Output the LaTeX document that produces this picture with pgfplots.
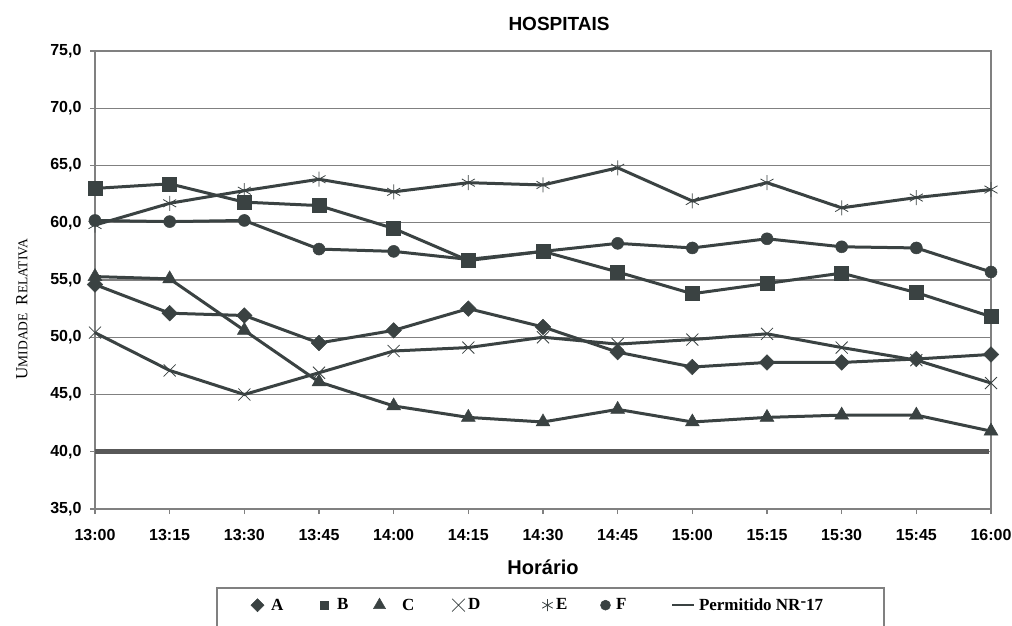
\documentclass[border=0pt]{standalone}
\usepackage{pgfplots}
\pgfplotsset{compat=1.18}
\usepackage{fontspec}
\setmainfont{Liberation Sans}
\newfontfamily\serif{Liberation Serif}
\definecolor{ser}{RGB}{58,66,66}
\definecolor{thr}{RGB}{88,88,88}
\definecolor{frm}{RGB}{128,128,128}
\pgfplotsset{
  markleg/.style={legend image code/.code={\path (-6pt,0pt) (6pt,0pt); \draw[##1, only marks, mark size=#1] plot coordinates {(0pt,0pt)};}},
  lineleg/.style={legend image code/.code={\draw[ser, line width=2pt] (0pt,0pt) -- (22pt,0pt);}},
  ser/.style={color=ser, line width=3pt, solid},
}
\begin{document}
\begin{tikzpicture}[x=1pt,y=1pt]
\path[use as bounding box] (0,0) rectangle (1012,625);
\begin{axis}[
  at={(95pt,116pt)}, anchor=south west, scale only axis,
  width=896pt, height=458pt,
  xmin=0, xmax=12, ymin=35, ymax=75,
  xtick={0,...,12},
  xticklabels={13:00,13:15,13:30,13:45,14:00,14:15,14:30,14:45,15:00,15:15,15:30,15:45,16:00},
  ytick={35,40,45,50,55,60,65,70,75},
  yticklabels={{35,0},{40,0},{45,0},{50,0},{55,0},{60,0},{65,0},{70,0},{75,0}},
  tick label style={font=\bfseries\fontsize{16}{16}\selectfont},
  xticklabel style={yshift=-12pt},
  yticklabel style={xshift=-5pt},
  tick align=outside, xtick pos=bottom, ytick pos=left,
  major tick length=5pt,
  every tick/.style={frm, line width=1.2pt},
  axis line style={frm, line width=1.5pt},
  ymajorgrids, grid style={frm, line width=1.2pt},
  clip=false,
  legend columns=-1,
  legend cell align=left,
  legend style={draw=none, fill=none, inner sep=0pt, outer sep=0pt,
    at={(0.17299,-0.2096)}, anchor=west,
    nodes={inner sep=0pt},
    font=\serif\bfseries\fontsize{17}{17}\selectfont},
]
\addplot[ser, mark=square*, mark size=5.5pt, mark options={solid, fill=ser, line width=0.5pt, rotate=45}, markleg=4.6pt]
  coordinates {(0,54.6)(1,52.1)(2,51.9)(3,49.5)(4,50.6)(5,52.5)(6,50.9)(7,48.7)(8,47.4)(9,47.8)(10,47.8)(11,48.1)(12,48.5)};
\addlegendentry{\makebox[52pt][l]{\hspace{6pt}A}}
\addplot[ser, mark=square*, mark size=7pt, mark options={solid, fill=ser, line width=0.5pt}, markleg=4pt]
  coordinates {(0,63.0)(1,63.4)(2,61.8)(3,61.5)(4,59.5)(5,56.7)(6,57.5)(7,55.7)(8,53.8)(9,54.7)(10,55.6)(11,53.9)(12,51.8)};
\addlegendentry{\makebox[40pt][l]{\hspace{5pt}B}}
\addplot[ser, mark=triangle*, mark size=8pt, mark options={solid, fill=ser, line width=0.5pt}, markleg=7pt]
  coordinates {(0,55.3)(1,55.1)(2,50.6)(3,46.1)(4,44.0)(5,43.0)(6,42.6)(7,43.7)(8,42.6)(9,43.0)(10,43.2)(11,43.2)(12,41.8)};
\addlegendentry{\makebox[64pt][l]{\hspace{15pt}C}}
\addplot[ser, mark=x, mark size=8.5pt, mark options={solid, line width=0.8pt}, markleg=9pt]
  coordinates {(0,50.4)(1,47.1)(2,45.0)(3,46.9)(4,48.8)(5,49.1)(6,50.0)(7,49.4)(8,49.8)(9,50.3)(10,49.1)(11,48.0)(12,46.0)};
\addlegendentry{\makebox[74pt][l]{\hspace{2pt}D}}
\addplot[ser, mark=asterisk, mark size=7.5pt, mark options={solid, line width=0.8pt}, markleg=6pt]
  coordinates {(0,59.8)(1,61.7)(2,62.8)(3,63.8)(4,62.7)(5,63.5)(6,63.3)(7,64.8)(8,61.9)(9,63.5)(10,61.3)(11,62.2)(12,62.9)};
\addlegendentry{\makebox[43pt][l]{\hspace{1pt}E}}
\addplot[ser, mark=*, mark size=6pt, mark options={solid, fill=ser, line width=0.5pt}, markleg=5pt]
  coordinates {(0,60.2)(1,60.1)(2,60.2)(3,57.7)(4,57.5)(5,56.8)(6,57.5)(7,58.2)(8,57.8)(9,58.6)(10,57.9)(11,57.8)(12,55.7)};
\addlegendentry{\makebox[58pt][l]{\hspace{3pt}F}}
\addplot[color=thr, line width=5pt, no marks, lineleg]
  coordinates {(0,40)(11.97,40)};
\addlegendentry{\hspace{4pt}Permitido NR\raisebox{0.45ex}{-}17}
\end{axis}
\node[font=\bfseries\fontsize{19}{19}\selectfont, anchor=center] at (559,601) {HOSPITAIS};
\node[font=\bfseries\fontsize{20}{20}\selectfont, anchor=base] at (543,51) {Horário};
\node[rotate=90, anchor=center, font=\serif] at (22,316) {\fontsize{17}{17}\selectfont U\fontsize{13.5}{13.5}\selectfont MIDADE\hspace{8pt}\fontsize{17}{17}\selectfont R\fontsize{13.5}{13.5}\selectfont ELATIVA};
\draw[frm, line width=1.5pt] (217,37) rectangle (884,-30);
\end{tikzpicture}
\end{document}
